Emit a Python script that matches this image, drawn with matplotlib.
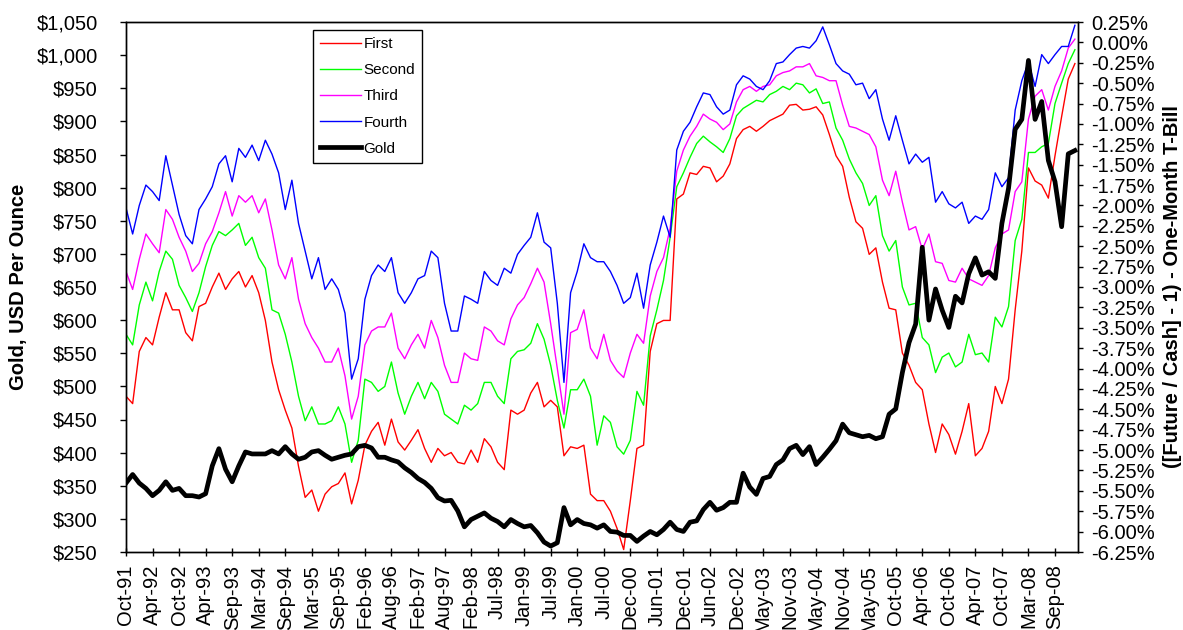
import numpy as np
import matplotlib
matplotlib.use("Agg")
import matplotlib.pyplot as plt
from matplotlib.ticker import FixedLocator, FuncFormatter

plt.rcParams["font.family"] = ["Liberation Sans", "DejaVu Sans"]

# Roll spreads: (Future / Cash - 1) minus one-month T-Bill, in percent
FIRST = [
    -4.34, -4.43, -3.79, -3.62, -3.71, -3.37, -3.07, -3.28, -3.28, -3.56, -3.66, -3.24, -3.20, -3.00, -2.83, -3.03, -2.90, -2.81,
    -3.00, -2.86, -3.07, -3.41, -3.92, -4.26, -4.51, -4.73, -5.20, -5.58, -5.49, -5.75, -5.54, -5.45, -5.41, -5.28, -5.66, -5.37,
    -4.94, -4.77, -4.66, -4.94, -4.62, -4.90, -5.00, -4.88, -4.75, -4.98, -5.15, -4.98, -5.07, -5.03, -5.15, -5.17, -5.00, -5.15,
    -4.86, -4.96, -5.15, -5.24, -4.51, -4.56, -4.51, -4.30, -4.17, -4.47, -4.39, -4.47, -5.07, -4.96, -4.98, -4.94, -5.54, -5.62,
    -5.62, -5.75, -5.96, -6.22, -5.62, -4.98, -4.94, -3.79, -3.45, -3.41, -3.41, -1.92, -1.86, -1.60, -1.62, -1.52, -1.54, -1.71,
    -1.64, -1.49, -1.18, -1.07, -1.03, -1.09, -1.03, -0.96, -0.92, -0.88, -0.77, -0.76, -0.83, -0.82, -0.79, -0.89, -1.13, -1.39,
    -1.52, -1.90, -2.20, -2.28, -2.60, -2.52, -2.94, -3.26, -3.28, -3.81, -3.96, -4.17, -4.26, -4.68, -5.03, -4.68, -4.81, -5.05,
    -4.77, -4.43, -5.07, -4.98, -4.77, -4.22, -4.43, -4.13, -3.28, -2.56, -1.54, -1.70, -1.75, -1.91, -1.39, -0.91, -0.45, -0.26,
]
SECOND = [
    -3.58, -3.71, -3.22, -2.94, -3.17, -2.81, -2.56, -2.66, -2.98, -3.13, -3.30, -3.07, -2.75, -2.49, -2.32, -2.37, -2.30, -2.22,
    -2.49, -2.39, -2.64, -2.77, -3.28, -3.32, -3.58, -3.92, -4.34, -4.64, -4.47, -4.68, -4.68, -4.64, -4.47, -4.68, -5.15, -4.88,
    -4.13, -4.17, -4.28, -4.22, -3.92, -4.30, -4.56, -4.34, -4.17, -4.37, -4.17, -4.28, -4.56, -4.62, -4.68, -4.45, -4.51, -4.43,
    -4.17, -4.17, -4.34, -4.43, -3.88, -3.79, -3.77, -3.69, -3.45, -3.64, -3.96, -4.39, -4.73, -4.26, -4.26, -4.13, -4.34, -4.94,
    -4.58, -4.66, -4.96, -5.05, -4.88, -4.28, -4.45, -3.60, -3.28, -2.92, -2.39, -1.77, -1.60, -1.41, -1.24, -1.15, -1.22, -1.28,
    -1.35, -1.18, -0.90, -0.81, -0.76, -0.71, -0.73, -0.64, -0.60, -0.54, -0.58, -0.50, -0.52, -0.62, -0.57, -0.75, -0.73, -1.05,
    -1.20, -1.43, -1.60, -1.73, -2.00, -1.88, -2.37, -2.56, -2.43, -3.00, -3.22, -3.20, -3.62, -3.71, -4.05, -3.86, -3.81, -3.98,
    -3.92, -3.58, -3.83, -3.81, -3.92, -3.37, -3.49, -3.24, -2.43, -2.17, -1.35, -1.35, -1.28, -1.24, -0.75, -0.50, -0.26, -0.09,
]
THIRD = [
    -2.81, -3.03, -2.66, -2.35, -2.47, -2.58, -2.05, -2.17, -2.39, -2.56, -2.81, -2.71, -2.47, -2.32, -2.09, -1.83, -2.13, -1.88,
    -1.96, -1.88, -2.09, -1.92, -2.30, -2.73, -2.90, -2.64, -3.15, -3.45, -3.62, -3.75, -3.92, -3.92, -3.75, -4.09, -4.62, -4.34,
    -3.71, -3.54, -3.49, -3.49, -3.32, -3.75, -3.88, -3.71, -3.58, -3.75, -3.41, -3.62, -3.96, -4.17, -4.17, -3.81, -3.88, -3.90,
    -3.49, -3.54, -3.66, -3.71, -3.39, -3.22, -3.13, -2.96, -2.77, -2.94, -3.45, -4.00, -4.56, -3.56, -3.52, -3.28, -3.75, -3.88,
    -3.58, -3.90, -4.03, -4.11, -3.81, -3.58, -3.69, -3.11, -2.81, -2.64, -2.28, -1.58, -1.32, -1.15, -1.03, -0.88, -0.94, -0.98,
    -1.07, -1.00, -0.73, -0.58, -0.54, -0.60, -0.54, -0.52, -0.41, -0.37, -0.35, -0.30, -0.30, -0.26, -0.41, -0.43, -0.47, -0.47,
    -0.77, -1.03, -1.05, -1.09, -1.13, -1.28, -1.69, -1.88, -1.58, -1.96, -2.30, -2.26, -2.54, -2.35, -2.69, -2.71, -2.92, -2.94,
    -2.77, -2.90, -2.94, -2.98, -2.86, -2.52, -2.35, -2.30, -1.83, -1.71, -0.94, -0.66, -0.58, -0.83, -0.54, -0.35, -0.07, 0.04,
]
FOURTH = [
    -2.03, -2.35, -2.00, -1.75, -1.83, -1.94, -1.39, -1.75, -2.11, -2.37, -2.47, -2.05, -1.92, -1.77, -1.49, -1.39, -1.71, -1.30,
    -1.41, -1.26, -1.45, -1.20, -1.37, -1.60, -2.05, -1.69, -2.22, -2.56, -2.90, -2.64, -3.03, -2.90, -3.03, -3.32, -4.13, -3.88,
    -3.15, -2.86, -2.73, -2.81, -2.64, -3.07, -3.20, -3.07, -2.90, -2.86, -2.56, -2.64, -3.20, -3.54, -3.54, -3.11, -3.15, -3.20,
    -2.81, -2.92, -2.98, -2.77, -2.83, -2.60, -2.49, -2.39, -2.09, -2.45, -2.52, -3.20, -4.17, -3.07, -2.81, -2.47, -2.64, -2.69,
    -2.69, -2.81, -2.98, -3.20, -3.13, -2.83, -3.26, -2.73, -2.45, -2.13, -2.39, -1.32, -1.09, -0.98, -0.79, -0.62, -0.64, -0.79,
    -0.88, -0.83, -0.52, -0.41, -0.45, -0.54, -0.58, -0.47, -0.26, -0.24, -0.15, -0.07, -0.05, -0.07, 0.02, 0.19, -0.03, -0.26,
    -0.35, -0.39, -0.52, -0.50, -0.69, -0.58, -0.94, -1.20, -0.90, -1.20, -1.49, -1.37, -1.47, -1.41, -1.96, -1.83, -1.98, -2.03,
    -1.96, -2.22, -2.13, -2.17, -2.05, -1.60, -1.77, -1.66, -0.83, -0.47, -0.24, -0.54, -0.15, -0.26, -0.15, -0.05, -0.05, 0.21,
]
# Spot gold, USD per ounce
GOLD = [
    354, 367, 354, 346, 335, 343, 356, 343, 346, 335, 335, 333, 338, 380, 406, 375, 356, 380,
    401, 398, 398, 398, 403, 398, 409, 398, 390, 393, 401, 403, 396, 390, 393, 396, 398, 409,
    411, 407, 393, 393, 389, 386, 377, 370, 361, 355, 346, 332, 327, 328, 312, 288, 299, 304,
    309, 301, 296, 288, 299, 293, 288, 290, 279, 265, 259, 264, 317, 291, 299, 293, 291, 286,
    291, 281, 280, 275, 275, 266, 274, 281, 276, 284, 295, 284, 281, 295, 297, 314, 325, 313,
    317, 325, 325, 369, 348, 337, 361, 364, 382, 389, 406, 411, 397, 409, 382, 393, 405, 418,
    443, 430, 427, 424, 426, 421, 424, 458, 466, 521, 566, 594, 710, 600, 647, 615, 589, 636,
    626, 670, 694, 668, 673, 663, 746, 799, 888, 903, 992, 903, 930, 841, 809, 741, 851, 856,
]

DATE_LABELS = [
    "Oct-91", "Apr-92", "Oct-92", "Apr-93", "Sep-93", "Mar-94", "Sep-94", "Mar-95", "Sep-95",
    "Feb-96", "Aug-96", "Feb-97", "Aug-97", "Feb-98", "Jul-98", "Jan-99", "Jul-99", "Jan-00",
    "Jul-00", "Dec-00", "Jun-01", "Dec-01", "Jun-02", "Dec-02", "May-03", "Nov-03", "May-04",
    "Nov-04", "May-05", "Oct-05", "Apr-06", "Oct-06", "Apr-07", "Oct-07", "Mar-08", "Sep-08",
]

SAMPLE_STEP = 30    # trading days between observations
LABEL_STEP = 120    # trading days between date labels

day = np.arange(len(GOLD)) * SAMPLE_STEP
label_days = np.arange(len(DATE_LABELS)) * LABEL_STEP

W, H = 1183, 630
fig = plt.figure(figsize=(W / 100, H / 100), dpi=100)
fig.patch.set_facecolor("white")

ax = fig.add_axes([126 / W, 78 / H, 952 / W, 530 / H])
ax_g = ax.twinx()

FS = 14.5

# spreads on the right-hand scale
series = [("First", FIRST, "#ff0000"), ("Second", SECOND, "#00ff00"),
          ("Third", THIRD, "#ff00ff"), ("Fourth", FOURTH, "#0000ff")]
handles = []
for name, vals, col in series:
    ln, = ax.plot(day, vals, color=col, lw=1.0, label=name)
    handles.append(ln)

ax.set_ylim(-6.25, 0.25)
ax.yaxis.set_major_locator(FixedLocator(np.arange(-25, 2) * 0.25))
ax.yaxis.set_major_formatter(FuncFormatter(lambda v, p: "%.2f%%" % (0.0 if abs(v) < 1e-9 else v)))
ax.yaxis.tick_right()
ax.yaxis.set_label_position("right")
ax.set_ylabel("([Future / Cash] - 1) - One-Month T-Bill", fontsize=FS, fontweight="bold", rotation=90)
ax.yaxis.set_label_coords(1.089, 0.5)
ax.tick_params(axis="y", direction="out", length=3.6, width=1, labelsize=FS, pad=6)

ax.set_xlim(0, 4304)
ax.set_xticks(label_days)
ax.set_xticklabels(DATE_LABELS, rotation=90, fontsize=FS)
ax.tick_params(axis="x", direction="inout", length=6, width=1, pad=6)

# gold on the left-hand scale, drawn above the spreads
gl, = ax_g.plot(day, GOLD, color="black", lw=3.4, label="Gold", solid_joinstyle="round")
handles.append(gl)
ax_g.set_ylim(250, 1050)
ax_g.yaxis.set_major_locator(FixedLocator(np.arange(250, 1051, 50)))
ax_g.yaxis.set_major_formatter(FuncFormatter(lambda v, p: "${:,.0f}".format(v)))
ax_g.yaxis.tick_left()
ax_g.yaxis.set_label_position("left")
ax_g.set_ylabel("Gold, USD Per Ounce", fontsize=FS, fontweight="bold")
ax_g.yaxis.set_label_coords(-0.103, 0.5)
ax_g.tick_params(axis="y", direction="out", length=4.3, width=1, labelsize=FS, pad=16)

for a in (ax, ax_g):
    for s in a.spines.values():
        s.set_linewidth(1.0)
        s.set_color("black")

leg = ax_g.legend(handles=handles, labels=[h.get_label() for h in handles],
                  loc="upper left", bbox_to_anchor=(313 / W, 1 - 30 / H),
                  bbox_transform=fig.transFigure, borderaxespad=0,
                  fancybox=False, edgecolor="black", framealpha=1, fontsize=11,
                  handlelength=2.7, handletextpad=0.15, labelspacing=0.8,
                  borderpad=0.45)
leg.get_frame().set_linewidth(1.0)

fig.savefig("out.png", dpi=100, facecolor="white")
